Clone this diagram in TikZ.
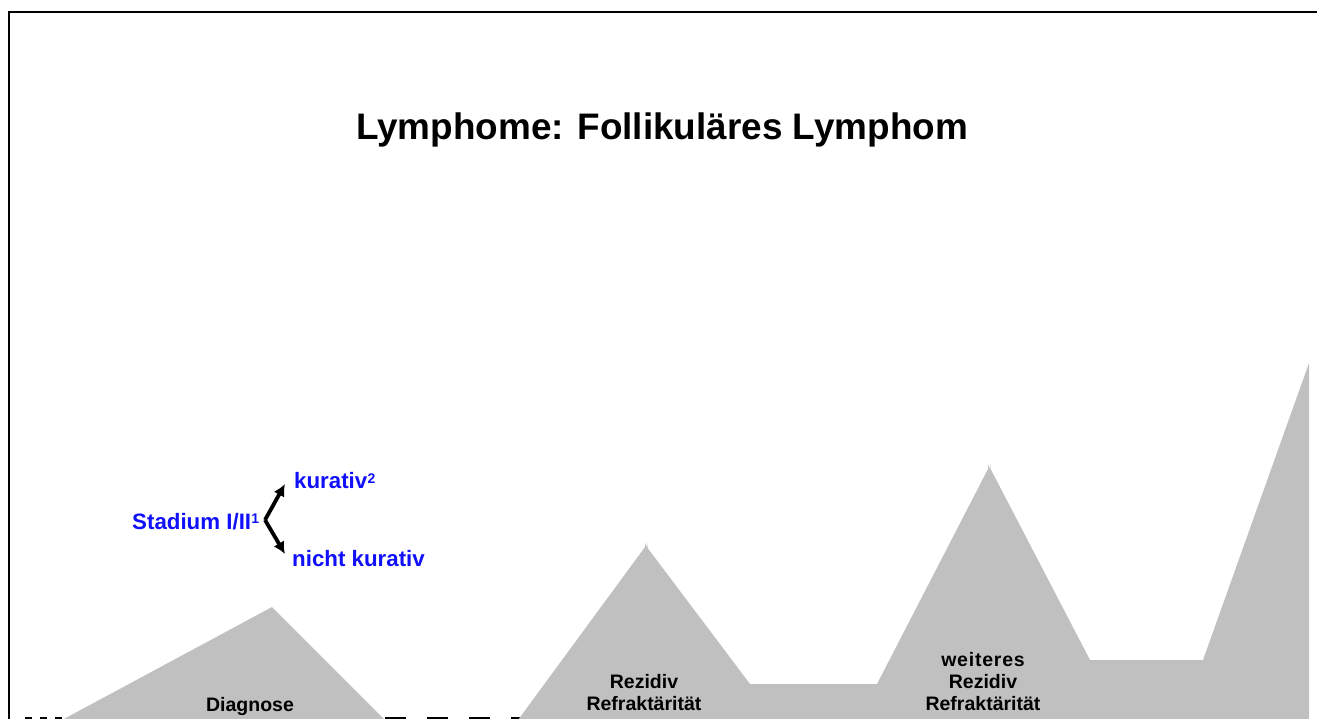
\documentclass[tikz,border=0pt]{standalone}
\usepackage{fontspec}
\setmainfont{Liberation Sans}
\usetikzlibrary{arrows.meta}
\definecolor{mgray}{RGB}{192,192,192}
\definecolor{tblue}{RGB}{16,16,250}
\newcommand{\supmark}[1]{\kern0.3pt\raisebox{0.5ex}{\fontsize{14}{14}\selectfont #1}}
\tikzset{
  mountain/.style={fill=mgray, draw=none},
  bluetext/.style={text=tblue, font=\fontsize{22.3}{24}\selectfont\bfseries, inner sep=0pt},
  label/.style={font=\fontsize{19.5}{22}\selectfont\bfseries, align=center, inner sep=0pt},
  branch/.style={line width=3.8pt, -{Latex[length=12pt,width=12pt]}},
  frame/.style={line width=2.2pt},
  baseline dash/.style={line width=3pt}
}
\begin{document}
\begin{tikzpicture}[x=1pt,y=-1pt]
\useasboundingbox (0,0) rectangle (1317,719);
% frame
\draw[frame] (9,719) -- (9,12) -- (1317,12);
% dashed base line (behind mountains)
\draw[baseline dash, dash pattern=on 7pt off 8pt] (25,718) -- (66,718);
\draw[baseline dash, dash pattern=on 21pt off 21pt] (385,718) -- (522,718);
% mountains
\fill[mountain] (62,720) -- (272,607) -- (385,720) -- cycle;
\fill[mountain] (518,720) -- (645,547) -- (645.3,543) -- (646.3,547.5) -- (647.3,543) -- (647.6,548)
  -- (750,684) -- (877,684) -- (988,469) -- (988.3,464) -- (989.3,469.5) -- (990.3,464) -- (990.6,469)
  -- (1090,660) -- (1203,660) -- (1309,363) -- (1309,720) -- cycle;
% title
\node[font=\fontsize{36.9}{40}\selectfont\bfseries, inner sep=0pt] (title) at (662,130) {Lymphome: Follikuläres Lymphom};
% stage branching
\node[bluetext, anchor=west] (stad) at (132,522) {Stadium I/II\supmark{1}};
\node[bluetext, anchor=west] (kur) at (294,481) {kurativ\supmark{2}};
\node[bluetext, anchor=west] (nkur) at (292,559) {nicht kurativ};
\coordinate (fork) at (265,520);
\draw[branch] (fork) -- (285,484);
\draw[branch] (fork) -- (285,554);
% labels
\node[label] (diag) at (250,706) {Diagnose};
\node[label] (rez1) at (644,693) {Rezidiv\\Refraktärität};
\node[label] (rez2) at (983,682) {\addfontfeature{LetterSpace=4}weiteres\\Rezidiv\\Refraktärität};
\end{tikzpicture}
\end{document}
